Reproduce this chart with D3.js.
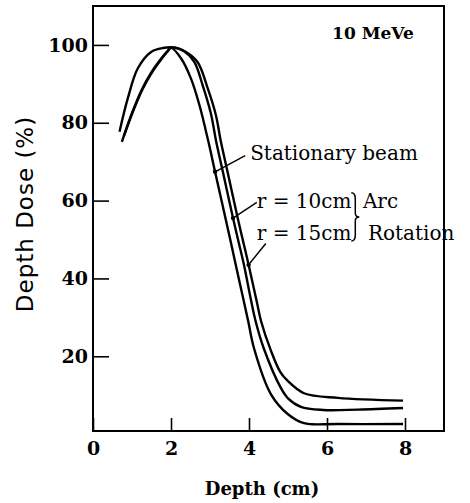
<!DOCTYPE html>
<html>
<head>
<meta charset="utf-8">
<script src="https://cdn.jsdelivr.net/npm/d3@7"></script>
<style>
  body { margin: 0; background: #fff; }
  svg { display: block; }
</style>
</head>
<body>
<div id="chart"></div>
<script>
// depth (cm) / dose (%)
var depthStationary = [0.74, 1.0, 1.25, 1.5, 1.75, 1.9, 2.0, 2.26, 2.51, 2.73, 2.96, 3.13, 3.53, 3.66, 3.87, 3.98, 4.13, 4.56, 5.0, 5.41, 6.28, 7.95];
var doseStationary  = [75.1, 82.5, 88.5, 93.0, 96.5, 98.3, 99.3, 96.5, 91.4, 84.5, 75.1, 67.4, 49.5, 43.5, 34, 29, 22, 10.3, 5.1, 2.8, 2.6, 2.6];

var depthArc10 = [0.68, 0.89, 1.15, 1.49, 1.79, 2.1, 2.34, 2.6, 2.81, 3.02, 3.16, 3.33, 3.59, 3.73, 3.87, 4.04, 4.17, 4.38, 4.82, 5.0, 5.33, 5.9, 6.8, 7.95];
var doseArc10  = [77.7, 86.2, 94, 98.2, 99.2, 99.3, 98.4, 95.6, 89.7, 82.5, 75.1, 67.4, 55.5, 49.5, 43.5, 35, 29, 22, 11.8, 9.2, 7.0, 6.2, 6.3, 6.7];

var depthArc15 = [0.79, 1.03, 1.28, 1.53, 1.77, 1.92, 2.02, 2.36, 2.68, 2.94, 3.15, 3.28, 3.45, 3.71, 3.85, 3.99, 4.2, 4.31, 4.56, 4.8, 5.0, 5.41, 6.28, 7.95];
var doseArc15  = [76.5, 83.0, 88.8, 93.2, 96.6, 98.4, 99.3, 98.3, 95.6, 88.9, 82, 75.1, 67.4, 55.5, 49.5, 43.5, 34, 29, 21.5, 16, 13.6, 10.5, 9.3, 8.6];

var xTicks = [0, 2, 4, 6, 8];
var yTicks = [20, 40, 60, 80, 100];

(function() {
  var width = 470, height = 503;
  var plotLeft = 93, plotRight = 444, plotTop = 6, plotBottom = 431;

  var x = d3.scaleLinear().domain([0, 9]).range([plotLeft, plotRight]);
  var y = d3.scaleLinear().domain([0.8, 110]).range([plotBottom, plotTop]);

  var serif = '"DejaVu Serif", serif';

  var svg = d3.select('#chart').append('svg')
    .attr('width', width)
    .attr('height', height);

  // frame
  svg.append('rect')
    .attr('x', plotLeft).attr('y', plotTop)
    .attr('width', plotRight - plotLeft).attr('height', plotBottom - plotTop)
    .attr('fill', 'none').attr('stroke', '#000').attr('stroke-width', 2);

  // y axis, ticks point inward
  var yAxis = svg.append('g')
    .attr('transform', 'translate(' + plotLeft + ',0)')
    .call(d3.axisLeft(y).tickValues(yTicks).tickSize(-16).tickPadding(5));
  yAxis.select('.domain').remove();
  yAxis.selectAll('line').attr('stroke-width', 1.6);
  yAxis.selectAll('text')
    .attr('font-family', serif).attr('font-weight', 'bold')
    .attr('font-size', 19).attr('fill', '#000');

  // x axis
  var xAxis = svg.append('g')
    .attr('transform', 'translate(0,' + plotBottom + ')')
    .call(d3.axisBottom(x).tickValues(xTicks).tickSize(-13).tickPadding(11));
  xAxis.select('.domain').remove();
  xAxis.selectAll('line').attr('stroke-width', 1.6);
  xAxis.selectAll('text')
    .attr('font-family', serif).attr('font-weight', 'bold')
    .attr('font-size', 19).attr('fill', '#000');

  // axis titles
  svg.append('text')
    .attr('x', 262).attr('y', 495)
    .attr('text-anchor', 'middle')
    .attr('font-family', serif).attr('font-weight', 'bold').attr('font-size', 18)
    .text('Depth (cm)');

  svg.append('text')
    .attr('transform', 'translate(33,214) rotate(-90)')
    .attr('text-anchor', 'middle')
    .attr('font-family', '"DejaVu Sans", sans-serif').attr('font-size', 23)
    .attr('letter-spacing', 1)
    .text('Depth Dose (%)');

  // curves
  var line = d3.line()
    .x(function(d) { return x(d[0]); })
    .y(function(d) { return y(d[1]); })
    .curve(d3.curveCatmullRom.alpha(0.5));

  var series = [
    d3.zip(depthStationary, doseStationary),
    d3.zip(depthArc10, doseArc10),
    d3.zip(depthArc15, doseArc15)
  ];

  svg.selectAll('path.curve')
    .data(series)
    .enter().append('path')
    .attr('class', 'curve')
    .attr('d', line)
    .attr('fill', 'none')
    .attr('stroke', '#000')
    .attr('stroke-width', 2.4)
    .attr('stroke-linejoin', 'round');

  // labels with leader lines to the curves (data units)
  var notes = [
    { text: 'Stationary beam', lx: 4.03, ly: 70.5, px: 3.13, py: 67.4, ox: -5, oy: -4 },
    { text: 'r = 10cm', lx: 4.2, ly: 58.0, px: 3.59, py: 55.5, ox: 0, oy: -6 },
    { text: 'r = 15cm', lx: 4.2, ly: 50.0, px: 3.99, py: 43.5, ox: 9, oy: 4 }
  ];

  notes.forEach(function(n) {
    var sx = x(n.lx) + n.ox, sy = y(n.ly) + n.oy;
    svg.append('line')
      .attr('x1', sx).attr('y1', sy)
      .attr('x2', x(n.px)).attr('y2', y(n.py))
      .attr('stroke', '#000').attr('stroke-width', 1.4);
    svg.append('circle')
      .attr('cx', x(n.px)).attr('cy', y(n.py)).attr('r', 2.2)
      .attr('fill', '#000');
    svg.append('text')
      .attr('x', x(n.lx)).attr('y', y(n.ly))
      .attr('font-family', serif).attr('font-size', 20)
      .text(n.text);
  });

  svg.append('text')
    .attr('x', x(6.92)).attr('y', y(58.0))
    .attr('font-family', serif).attr('font-size', 20)
    .text('Arc');
  svg.append('text')
    .attr('x', x(7.05)).attr('y', y(50.0))
    .attr('font-family', serif).attr('font-size', 20)
    .text('Rotation');

  // brace joining the two arc labels
  var bx = x(6.7), bt = y(62.0), bb = y(49.6), bm = (bt + bb) / 2;
  svg.append('path')
    .attr('d', 'M' + (bx - 3) + ',' + bt +
      ' Q' + (bx + 1) + ',' + bt + ' ' + (bx + 1) + ',' + (bt + 6) +
      ' L' + (bx + 1) + ',' + (bm - 4) +
      ' Q' + (bx + 1) + ',' + bm + ' ' + (bx + 5) + ',' + bm +
      ' Q' + (bx + 1) + ',' + bm + ' ' + (bx + 1) + ',' + (bm + 4) +
      ' L' + (bx + 1) + ',' + (bb - 6) +
      ' Q' + (bx + 1) + ',' + bb + ' ' + (bx - 3) + ',' + bb)
    .attr('fill', 'none').attr('stroke', '#000').attr('stroke-width', 1.5);

  svg.append('text')
    .attr('x', x(6.13)).attr('y', y(101.5))
    .attr('font-family', serif).attr('font-weight', 'bold').attr('font-size', 17)
    .text('10 MeVe');
})();
</script>
</body>
</html>
